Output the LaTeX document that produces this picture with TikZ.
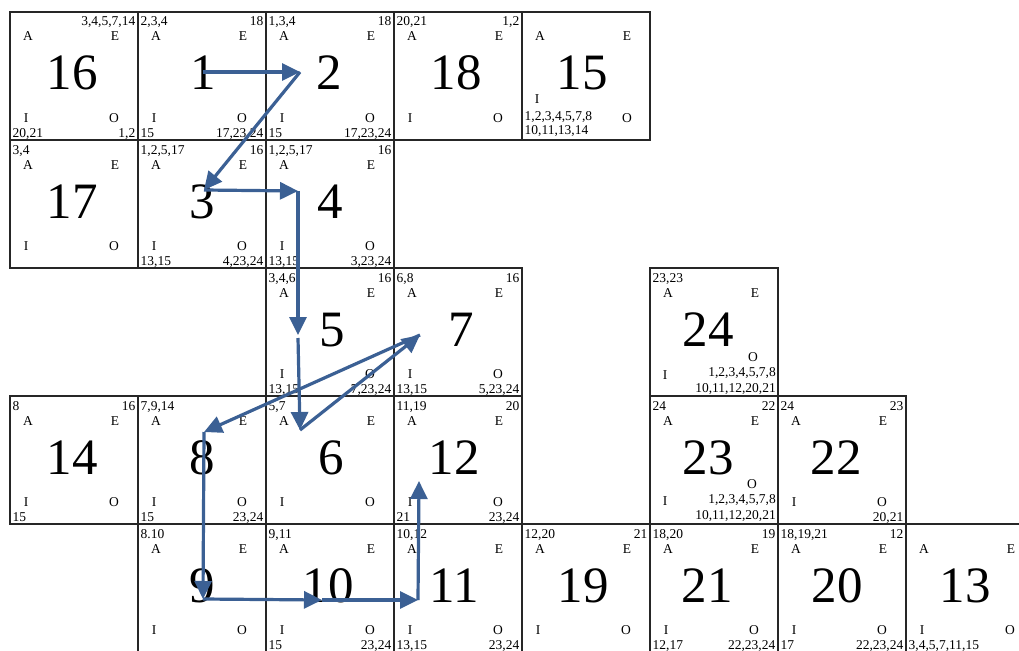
\documentclass[tikz,border=0pt]{standalone}
\usepackage{fontspec}
\setmainfont{Liberation Serif}
\usetikzlibrary{arrows.meta}
\definecolor{flowblue}{RGB}{59,96,148}
\tikzset{
  cellframe/.style={draw=black!85,line width=1.2pt},
  lab/.style={font=\fontsize{13.5}{15}\selectfont,inner sep=0pt,anchor=base},
  num/.style={font=\fontsize{13.5}{15}\selectfont,inner sep=0pt},
  big/.style={font=\fontsize{51}{60}\selectfont,inner sep=0pt,anchor=base},
  flowarrow/.style={draw=flowblue,line width=3.2pt,-{Triangle[length=18pt,width=17pt]},fill=flowblue}
}
% x y big bigx TL TR
\newcommand\cellbase[6]{%
  \begin{scope}[shift={(#1,#2)}]
    \draw[cellframe] (0,0) rectangle (128,128);
    \node[big] (n#3) at (#4,78) {#3};
    \node[lab] (n#3a) at (18,29) {A};
    \node[lab] (n#3e) at (105,29) {E};
    \node[num,anchor=base west] (n#3tl) at (2.5,14) {#5};
    \node[num,anchor=base east] (n#3tr) at (125.5,14) {#6};
  \end{scope}}
% x y big bigx TL TR BL BR
\newcommand\cellstd[8]{%
  \cellbase{#1}{#2}{#3}{#4}{#5}{#6}%
  \begin{scope}[shift={(#1,#2)}]
    \node[lab] (n#3i) at (16,110) {I};
    \node[lab] (n#3o) at (104,110) {O};
    \node[num,anchor=base west] (n#3bl) at (2.5,125) {#7};
    \node[num,anchor=base east] (n#3br) at (125.5,125) {#8};
  \end{scope}}
\begin{document}
\begin{tikzpicture}[x=1pt,y=-1pt]
\useasboundingbox (0,0) rectangle (1019,650);
\clip (0,0) rectangle (1019,650);
\fill[white] (0,0) rectangle (1019,650);
% row 0
\cellstd{10}{12}{16}{62}{}{3,4,5,7,14}{20,21}{1,2}
\cellstd{138}{12}{1}{65}{2,3,4}{18}{15}{17,23,24}
\cellstd{266}{12}{2}{63}{1,3,4}{18}{15}{17,23,24}
\cellstd{394}{12}{18}{62}{20,21}{1,2}{}{}
\cellbase{522}{12}{15}{60}{}{}
\begin{scope}[shift={(522,12)}]
  \node[lab] (n15i) at (15,92) {I};
  \node[lab] (n15o) at (105,110) {O};
  \node[num,anchor=base west] (n15l1) at (2.5,109) {1,2,3,4,5,7,8};
  \node[num,anchor=base west] (n15l2) at (2.5,123) {10,11,13,14};
\end{scope}
% row 1
\cellstd{10}{140}{17}{62}{3,4}{}{}{}
\cellstd{138}{140}{3}{64}{1,2,5,17}{16}{13,15}{4,23,24}
\cellstd{266}{140}{4}{64}{1,2,5,17}{16}{13,15}{3,23,24}
% row 2
\cellstd{266}{268}{5}{66}{3,4,6}{16}{13,15}{7,23,24}
\cellstd{394}{268}{7}{67}{6,8}{16}{13,15}{5,23,24}
\cellbase{650}{268}{24}{58}{23,23}{}
\begin{scope}[shift={(650,268)}]
  \node[lab] (n24o) at (103,93) {O};
  \node[lab] (n24i) at (15,111) {I};
  \node[num,anchor=base east] (n24l1) at (126,108) {1,2,3,4,5,7,8};
  \node[num,anchor=base east] (n24l2) at (126,124) {10,11,12,20,21};
\end{scope}
% row 3
\cellstd{10}{396}{14}{62}{8}{16}{15}{}
\cellstd{138}{396}{8}{64}{7,9,14}{}{15}{23,24}
\cellstd{266}{396}{6}{65}{5,7}{}{}{}
\cellstd{394}{396}{12}{60}{11,19}{20}{21}{23,24}
\cellbase{650}{396}{23}{58}{24}{22}
\begin{scope}[shift={(650,396)}]
  \node[lab] (n23o) at (102,92) {O};
  \node[lab] (n23i) at (15,109) {I};
  \node[num,anchor=base east] (n23l1) at (126,107) {1,2,3,4,5,7,8};
  \node[num,anchor=base east] (n23l2) at (126,123) {10,11,12,20,21};
\end{scope}
\cellstd{778}{396}{22}{58}{24}{23}{}{20,21}
% row 4
\cellstd{138}{524}{9}{64}{8.10}{}{}{}
\cellstd{266}{524}{10}{62}{9,11}{}{15}{23,24}
\cellstd{394}{524}{11}{60}{10,12}{}{13,15}{23,24}
\cellstd{522}{524}{19}{61}{12,20}{21}{}{}
\cellstd{650}{524}{21}{57}{18,20}{19}{12,17}{22,23,24}
\cellstd{778}{524}{20}{59}{18,19,21}{12}{17}{22,23,24}
\cellstd{906}{524}{13}{59}{}{}{3,4,5,7,11,15}{}
% path points
\coordinate (p1) at (203,72);
\coordinate (p2) at (300,72);
\coordinate (p3) at (204,190);
\coordinate (p4) at (298,191);
\coordinate (p5) at (298,335);
\coordinate (p5b) at (298,338);
\coordinate (p6) at (300,430);
\coordinate (p7) at (420,335);
\coordinate (p8) at (204,432);
\coordinate (p9) at (203,599);
\coordinate (p10) at (322,600);
\coordinate (p11) at (418,600);
\coordinate (p12) at (419,481);
\draw[flowarrow] (p1) -- (p2);
\draw[flowarrow] (p2) -- (p3);
\draw[flowarrow] (p3) -- (p4);
\draw[flowarrow] (p4) -- (p5);
\draw[flowarrow] (p5b) -- (p6);
\draw[flowarrow] (p6) -- (p7);
\draw[flowarrow] (p7) -- (p8);
\draw[flowarrow] (p8) -- (p9);
\draw[flowarrow] (p9) -- (p10);
\draw[flowarrow] (p10) -- (p11);
\draw[flowarrow] (p11) -- (p12);
\end{tikzpicture}
\end{document}
